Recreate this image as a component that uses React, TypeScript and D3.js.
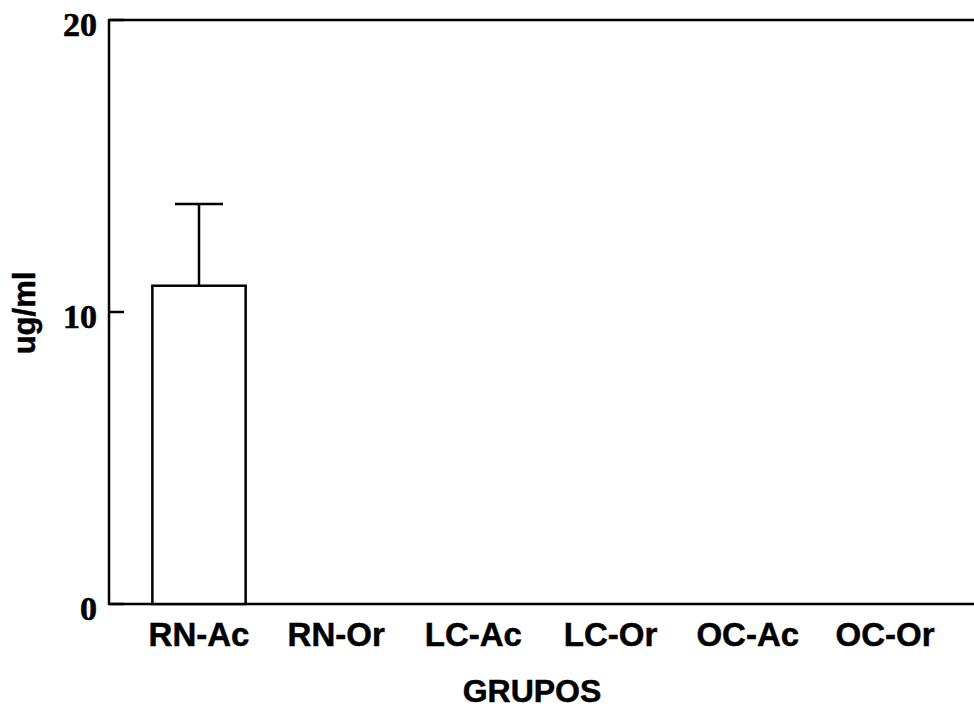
import React from "react";
import * as d3 from "d3";

const categories = ["RN-Ac", "RN-Or", "LC-Ac", "LC-Or", "OC-Ac", "OC-Or"];
const values = [10.9, 0, 0, 0, 0, 0];
const errors = [2.8, 0, 0, 0, 0, 0];
const yTicks = [0, 10, 20];
const yLabel = "ug/ml";
const xLabel = "GRUPOS";

const W = 974;
const H = 710;
const left = 109;
const right = 974;
const top = 20;
const bottom = 604;

export default function App() {
  const y = d3.scaleLinear().domain([0, 20]).range([bottom, top]);
  const x = d3.scalePoint<string>().domain(categories).range([199, 885]);
  const step = x.step();
  const bw = step * 0.68;
  const cap = 48;
  const sans = "'Liberation Sans', Arial, sans-serif";
  const serif = "'Liberation Serif', 'Times New Roman', serif";

  return (
    <svg width={W} height={H} style={{ position: "absolute", left: 0, top: 0, background: "#fff" }}>
      {/* frame */}
      <line x1={left} x2={right} y1={top} y2={top} stroke="#000" strokeWidth={2.5} />
      <line x1={left} x2={left} y1={top - 1} y2={bottom + 1} stroke="#000" strokeWidth={2.5} />
      <line x1={left} x2={right} y1={bottom} y2={bottom} stroke="#000" strokeWidth={2.5} />
      {/* y ticks */}
      {yTicks.map((t) => (
        <g key={t}>
          <line x1={left} x2={left + 15} y1={y(t)} y2={y(t)} stroke="#000" strokeWidth={2.5} />
          <text
            x={97}
            y={y(t) + 16}
            textAnchor="end"
            fontFamily={serif}
            fontWeight="bold"
            fontSize={34}
            stroke="#000"
            strokeWidth={0.6}
          >
            {t}
          </text>
        </g>
      ))}
      {/* bars */}
      {categories.map((c, i) =>
        values[i] > 0 ? (
          <g key={c}>
            <line
              x1={x(c)!}
              x2={x(c)!}
              y1={y(values[i])}
              y2={y(values[i] + errors[i])}
              stroke="#000"
              strokeWidth={2.5}
            />
            <line
              x1={x(c)! - cap / 2}
              x2={x(c)! + cap / 2}
              y1={y(values[i] + errors[i])}
              y2={y(values[i] + errors[i])}
              stroke="#000"
              strokeWidth={2.5}
            />
            <rect
              x={x(c)! - bw / 2}
              y={y(values[i])}
              width={bw}
              height={bottom - y(values[i])}
              fill="#fff"
              stroke="#000"
              strokeWidth={2.5}
            />
          </g>
        ) : null
      )}
      {/* x labels */}
      {categories.map((c) => (
        <text
          key={c}
          x={x(c)!}
          y={646}
          textAnchor="middle"
          fontFamily={sans}
          fontWeight="bold"
          fontSize={33}
          stroke="#000"
          strokeWidth={0.5}
        >
          {c}
        </text>
      ))}
      <text
        x={532}
        y={702}
        textAnchor="middle"
        fontFamily={sans}
        fontWeight="bold"
        fontSize={32}
        stroke="#000"
        strokeWidth={0.5}
      >
        {xLabel}
      </text>
      <text
        transform={`translate(35,313) rotate(-90)`}
        textAnchor="middle"
        fontFamily={sans}
        fontWeight="bold"
        fontSize={31}
        stroke="#000"
        strokeWidth={0.5}
      >
        {yLabel}
      </text>
    </svg>
  );
}
